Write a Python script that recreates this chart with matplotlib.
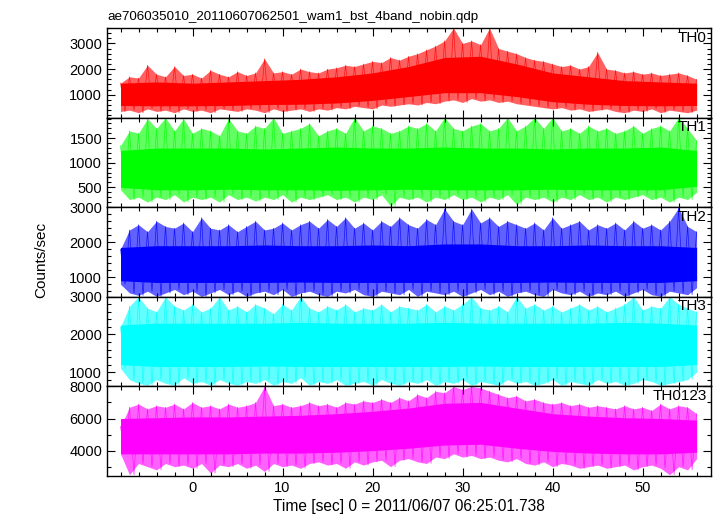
import numpy as np
import matplotlib
matplotlib.use("Agg")
import matplotlib.pyplot as plt
from matplotlib.ticker import MultipleLocator

plt.rcParams["font.family"] = ["Liberation Sans", "DejaVu Sans"]

title = "ae706035010_20110607062501_wam1_bst_4band_nobin.qdp"
xlabel = "Time [sec] 0 = 2011/06/07 06:25:01.738"
ylabel = "Counts/sec"

names = ["TH0", "TH1", "TH2", "TH3", "TH0123"]
colors = ["#ff0000", "#00ff00", "#0000ff", "#00ffff", "#ff00ff"]
ylims = [(110, 3600), (95, 1920), (440, 3000), (620, 3000), (2420, 8000)]
major_step = [1000, 500, 1000, 1000, 2000]
minor_step = [200, 100, 200, 200, 1000]

# envelope read once per second, t = -8 .. 56
t_sec = list(range(-8, 57))
# dense core read every 4 s, t = -8 .. 56
t_core = list(range(-8, 57, 4))

th0_hi = [1450, 1700, 1650, 2150, 1800, 1700, 2100, 1750, 1800, 1650, 1950, 1800, 1700,
          1900, 1750, 1850, 2400, 1850, 1900, 1800, 2000, 1900, 1850, 2000, 2050, 2150,
          2100, 2200, 2300, 2250, 2450, 2350, 2500, 2600, 2750, 2900, 3100, 3600, 3000,
          3100, 2950, 3600, 2800, 2700, 2600, 2450, 2350, 2300, 2200, 2100, 2150, 2000,
          2100, 2650, 2000, 1950, 1850, 1900, 1800, 1850, 1750, 1800, 1850, 1750, 1600]
th0_lo = [350, 400, 300, 450, 350, 400, 300, 450, 350, 400, 300, 450, 400, 350, 450, 400,
          300, 450, 350, 400, 450, 350, 450, 400, 500, 450, 550, 500, 450, 600, 550, 600,
          650, 600, 700, 650, 750, 800, 700, 850, 750, 800, 700, 750, 650, 600, 550, 500,
          450, 500, 400, 450, 350, 400, 450, 350, 300, 400, 350, 450, 300, 400, 350, 300, 400]
th0_core_hi = [1450, 1500, 1450, 1500, 1550, 1600, 1700, 1850, 2100, 2450, 2500, 2200,
               1850, 1700, 1550, 1500, 1450]
th0_core_lo = [580, 570, 570, 580, 620, 630, 680, 780, 930, 1080, 1080, 930, 730, 630,
               580, 570, 580]

th1_hi = [1350, 1650, 1600, 1900, 1700, 1920, 1650, 1900, 1600, 1700, 1650, 1550, 1900,
          1650, 1600, 1750, 1700, 1920, 1600, 1650, 1700, 1800, 1550, 1650, 1700, 1600,
          1920, 1650, 1750, 1700, 1600, 1650, 1750, 1700, 1800, 1650, 1920, 1700, 1650,
          1750, 1800, 1650, 1700, 1920, 1650, 1750, 1920, 1700, 1920, 1650, 1700, 1600,
          1750, 1650, 1700, 1600, 1650, 1750, 1600, 1700, 1750, 1650, 1920, 1700, 1450]
th1_lo = [450, 250, 300, 200, 300, 250, 350, 200, 300, 250, 300, 200, 350, 250, 300, 220,
          300, 250, 350, 200, 300, 250, 300, 350, 250, 300, 200, 300, 250, 350, 120, 300,
          250, 300, 200, 300, 250, 350, 250, 300, 200, 300, 250, 350, 150, 300, 250, 300,
          200, 300, 250, 350, 250, 300, 200, 300, 250, 300, 350, 250, 300, 200, 300, 250, 400]
th1_core_hi = [1250, 1300, 1300, 1300, 1280, 1300, 1320, 1300, 1300, 1320, 1300, 1300,
               1280, 1300, 1300, 1320, 1250]
th1_core_lo = [500, 450, 450, 460, 450, 450, 440, 450, 460, 450, 450, 450, 460, 450, 450,
               450, 520]

th2_hi = [1800, 2350, 2500, 2300, 2600, 2450, 2400, 2550, 2300, 2700, 2400, 2350, 2500,
          2300, 2450, 2600, 2350, 2400, 2550, 2350, 2500, 2600, 2400, 2650, 2450, 2700,
          2400, 2550, 2350, 2600, 2450, 2700, 2500, 2400, 2650, 2500, 2950, 2600, 2500,
          2950, 2550, 2700, 2450, 2600, 2500, 2400, 2550, 2350, 2700, 2400, 2500, 2600,
          2350, 2500, 2400, 2550, 2350, 2600, 2400, 2500, 2350, 2600, 2980, 2450, 2300]
th2_lo = [800, 550, 480, 600, 450, 550, 650, 500, 600, 450, 550, 650, 500, 600, 450, 550,
          600, 500, 650, 450, 550, 600, 500, 450, 600, 550, 650, 500, 450, 600, 550, 500,
          650, 450, 600, 550, 500, 600, 450, 550, 650, 500, 600, 450, 550, 600, 500, 450,
          650, 550, 500, 600, 450, 550, 500, 600, 450, 550, 650, 500, 450, 600, 550, 500, 700]
th2_core_hi = [1850, 1900, 1900, 1900, 1920, 1900, 1900, 1920, 1900, 1950, 1950, 1900,
               1900, 1920, 1900, 1900, 1850]
th2_core_lo = [900, 850, 850, 850, 850, 860, 850, 850, 850, 850, 850, 850, 860, 850, 850,
               850, 900]

th3_hi = [2200, 2750, 3000, 2700, 2600, 3000, 2750, 2650, 2800, 2600, 2700, 3000, 2650,
          2750, 2600, 2800, 2700, 2550, 2800, 2650, 3000, 2700, 2600, 2750, 2650, 2800,
          2600, 2700, 2650, 2800, 2600, 2750, 2700, 2650, 2800, 2600, 2750, 2650, 2800,
          3000, 2700, 2650, 2750, 2600, 3000, 2700, 2800, 2650, 2750, 2600, 2700, 2800,
          2650, 2750, 2600, 2700, 2800, 3000, 2650, 2750, 2700, 3000, 2800, 2700, 2600]
th3_lo = [1100, 800, 700, 650, 800, 700, 650, 850, 700, 750, 650, 800, 700, 650, 750, 700,
          800, 650, 750, 700, 850, 650, 750, 700, 800, 650, 700, 750, 650, 800, 700, 650,
          750, 700, 800, 650, 750, 700, 800, 650, 750, 700, 650, 800, 700, 750, 650, 700,
          800, 650, 750, 700, 650, 800, 700, 750, 650, 700, 800, 750, 650, 700, 750, 800, 1000]
th3_core_hi = [2250, 2300, 2300, 2300, 2300, 2320, 2300, 2300, 2300, 2320, 2300, 2300,
               2300, 2300, 2320, 2300, 2250]
th3_core_lo = [1200, 1150, 1150, 1150, 1160, 1150, 1150, 1150, 1150, 1150, 1160, 1150,
               1150, 1150, 1150, 1150, 1200]

th0123_hi = [5500, 6700, 6900, 6600, 6800, 6700, 6900, 6600, 7000, 6700, 6800, 6600, 6900,
             6700, 6800, 7000, 8000, 6800, 6900, 6700, 6800, 7000, 6800, 6900, 6700, 7000,
             6900, 7100, 7000, 7200, 7000, 7300, 7100, 7500, 7300, 7700, 7600, 8000, 7800,
             8000, 7900, 7700, 7500, 7300, 7400, 7100, 7200, 7000, 6900, 7000, 6800, 6900,
             6700, 6800, 6700, 6600, 6800, 6600, 6700, 6500, 6900, 6600, 6800, 6700, 6300]
th0123_lo = [3800, 2500, 3200, 3000, 2800, 3200, 3000, 3100, 2900, 3200, 2600, 3100, 3000,
             3200, 2900, 3100, 2700, 3200, 3000, 3100, 2900, 3200, 3300, 3100, 3200, 2900,
             3300, 3100, 3300, 3400, 3000, 3400, 3500, 3300, 3200, 3600, 3500, 3800, 3600,
             3700, 3500, 3600, 3400, 3300, 3500, 3200, 3100, 3300, 3000, 3200, 3100, 2900,
             3000, 3100, 2900, 3000, 3100, 2800, 3000, 3100, 2900, 2500, 3000, 2800, 3500]
th0123_core_hi = [6000, 6050, 6100, 6100, 6150, 6200, 6300, 6450, 6650, 6950, 7000, 6650,
                  6300, 6150, 6050, 6000, 5900]
th0123_core_lo = [3800, 3800, 3800, 3800, 3850, 3850, 3900, 4000, 4150, 4350, 4400, 4150,
                  3950, 3850, 3800, 3800, 3900]

his = [th0_hi, th1_hi, th2_hi, th3_hi, th0123_hi]
los = [th0_lo, th1_lo, th2_lo, th3_lo, th0123_lo]
core_his = [th0_core_hi, th1_core_hi, th2_core_hi, th3_core_hi, th0123_core_hi]
core_los = [th0_core_lo, th1_core_lo, th2_core_lo, th3_core_lo, th0123_core_lo]

W, H = 717, 516
fig = plt.figure(figsize=(W / 100, H / 100), dpi=100)
left, right, top, bottom = 107, 711, 28, 476
ph = (bottom - top) / 5

axes = []
for i in range(5):
    y0 = top + i * ph  # pixel row of this panel's top edge
    ax = fig.add_axes([left / W, 1 - (y0 + ph) / H, (right - left) / W, ph / H],
                      sharex=axes[0] if axes else None)
    axes.append(ax)

for i, ax in enumerate(axes):
    c = colors[i]
    # lighter outer envelope (the hairy spikes), then the dense core
    ax.fill_between(t_sec, los[i], his[i], color=c, alpha=0.62, lw=0)
    ax.fill_between(t_core, core_los[i], core_his[i], color=c, lw=0)
    zx = np.column_stack([t_sec, np.array(t_sec) + 0.5]).ravel()[:-1]
    zy = np.column_stack([his[i], los[i]]).ravel()[:-1]
    ax.plot(zx, zy, color=c, lw=0.5, alpha=0.8)
    ax.set_ylim(*ylims[i])
    ax.set_xlim(-9.5, 57.6)
    ax.yaxis.set_major_locator(MultipleLocator(major_step[i]))
    ax.yaxis.set_minor_locator(MultipleLocator(minor_step[i]))
    ax.xaxis.set_major_locator(MultipleLocator(10))
    ax.xaxis.set_minor_locator(MultipleLocator(2))
    ax.tick_params(which="both", direction="in", top=True, right=True,
                   labelsize=10.5, width=0.8)
    ax.tick_params(which="major", length=6)
    ax.tick_params(which="minor", length=3)
    for s in ax.spines.values():
        s.set_linewidth(1.0)
    if i < 4:
        ax.tick_params(labelbottom=False)
    ax.text(0.993, 0.97, names[i], transform=ax.transAxes, ha="right", va="top",
            fontsize=11)

axes[0].set_title(title, loc="left", fontsize=9.6, pad=6)
axes[-1].set_xlabel(xlabel, fontsize=11.2, labelpad=3)
fig.text(41 / W, 1 - 260 / H, ylabel, rotation=90, ha="center", va="center",
         fontsize=11)

fig.savefig("out.png", dpi=100)
